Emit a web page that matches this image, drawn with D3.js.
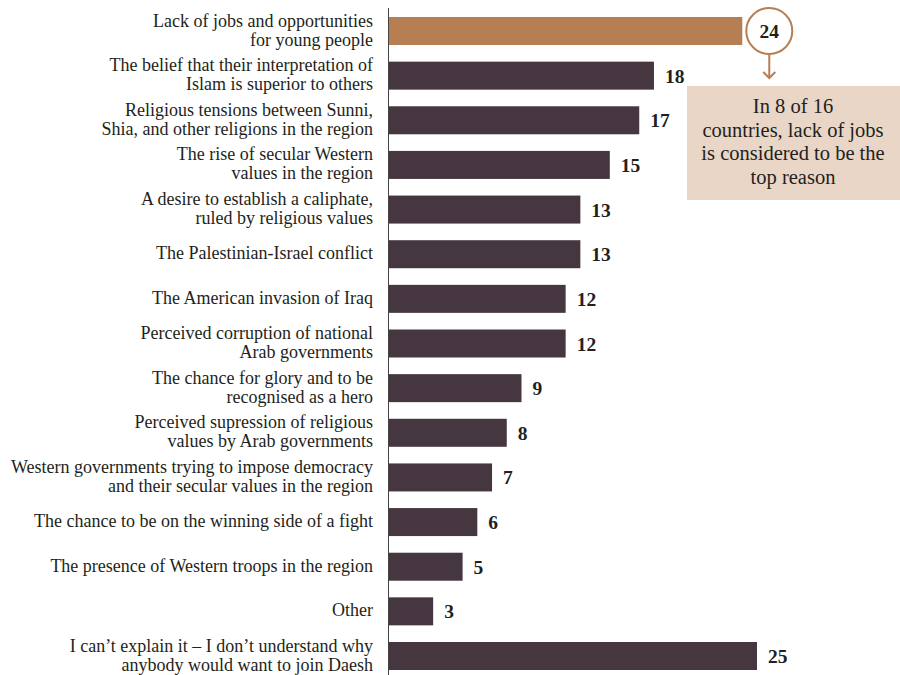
<!DOCTYPE html>
<html>
<head>
<meta charset="utf-8">
<script src="https://cdn.jsdelivr.net/npm/d3@7"></script>
<style>
  html, body { margin: 0; padding: 0; background: #fff; }
  svg { display: block; }
</style>
</head>
<body>
<svg id="chart" width="900" height="675"></svg>
<script>
// Reasons for joining Daesh (%), one entry per bar; "\n" splits a label onto two lines
const categories = [
  "Lack of jobs and opportunities\nfor young people",
  "The belief that their interpretation of\nIslam is superior to others",
  "Religious tensions between Sunni,\nShia, and other religions in the region",
  "The rise of secular Western\nvalues in the region",
  "A desire to establish a caliphate,\nruled by religious values",
  "The Palestinian-Israel conflict",
  "The American invasion of Iraq",
  "Perceived corruption of national\nArab governments",
  "The chance for glory and to be\nrecognised as a hero",
  "Perceived supression of religious\nvalues by Arab governments",
  "Western governments trying to impose democracy\nand their secular values in the region",
  "The chance to be on the winning side of a fight",
  "The presence of Western troops in the region",
  "Other",
  "I can\u2019t explain it \u2013 I don\u2019t understand why\nanybody would want to join Daesh"
];
const values = [24, 18, 17, 15, 13, 13, 12, 12, 9, 8, 7, 6, 5, 3, 25];
const highlightIndex = 0;
const calloutLines = ["In 8 of 16", "countries, lack of jobs", "is considered to be the", "top reason"];

const data = categories.map((c, i) => ({ cat: c, value: values[i], i }));

const svg = d3.select("#chart");
const serif = "'Liberation Serif', 'DejaVu Serif', serif";
const barColor = "#45363f";
const accent = "#b67e53";

const x = d3.scaleLinear().domain([0, 25]).range([389, 757]);
const y = d3.scaleBand().domain(categories).range([17, 670]).paddingInner(0.3728).paddingOuter(0);

// Bars
svg.append("g").selectAll("rect")
  .data(data)
  .join("rect")
  .attr("x", x(0))
  .attr("y", d => y(d.cat))
  .attr("width", d => x(d.value) - x(0))
  .attr("height", y.bandwidth())
  .attr("fill", d => d.i === highlightIndex ? accent : barColor);

// Vertical baseline axis
svg.append("line")
  .attr("x1", x(0) - 0.5).attr("x2", x(0) - 0.5)
  .attr("y1", 8).attr("y2", 675)
  .attr("stroke", "#444").attr("stroke-width", 1);

// Category labels, right aligned next to the axis
const labels = svg.append("g")
  .attr("font-family", serif)
  .attr("font-size", 18)
  .attr("fill", "#231f20")
  .attr("text-anchor", "end");

data.forEach(d => {
  const lines = d.cat.split("\n");
  const cy = y(d.cat) + y.bandwidth() / 2;
  const lh = 19;
  const t = labels.append("text")
    .attr("x", 373)
    .attr("y", cy + 5 - (lines.length - 1) * lh / 2);
  lines.forEach((ln, k) => {
    t.append("tspan").attr("x", 373).attr("dy", k === 0 ? 0 : lh).text(ln);
  });
});

// Value labels
svg.append("g").selectAll("text")
  .data(data.filter(d => d.i !== highlightIndex))
  .join("text")
  .attr("x", d => x(d.value) + 11)
  .attr("y", d => y(d.cat) + y.bandwidth() / 2 + 7)
  .attr("font-family", serif)
  .attr("font-size", 19.5)
  .attr("font-weight", "bold")
  .attr("fill", "#231f20")
  .text(d => d.value);

// Highlighted value inside a ringed badge with an arrow to the callout
const hd = data[highlightIndex];
const cx = x(hd.value) + 27;
const cy = y(hd.cat) + y.bandwidth() / 2;
const r = 23;
const badge = svg.append("g");
badge.append("circle")
  .attr("cx", cx).attr("cy", cy).attr("r", r)
  .attr("fill", "#fff").attr("stroke", accent).attr("stroke-width", 2);
badge.append("text")
  .attr("x", cx).attr("y", cy + 7)
  .attr("text-anchor", "middle")
  .attr("font-family", serif).attr("font-size", 19.5).attr("font-weight", "bold")
  .attr("fill", "#231f20")
  .text(hd.value);
badge.append("line")
  .attr("x1", cx).attr("x2", cx)
  .attr("y1", cy + r).attr("y2", cy + r + 24)
  .attr("stroke", accent).attr("stroke-width", 2);
badge.append("path")
  .attr("d", `M${cx - 6},${cy + r + 18} L${cx},${cy + r + 24} L${cx + 6},${cy + r + 18}`)
  .attr("fill", "none").attr("stroke", accent).attr("stroke-width", 2);

// Callout box
const box = svg.append("g");
box.append("rect")
  .attr("x", 687).attr("y", 86).attr("width", 213).attr("height", 114)
  .attr("fill", "#e9d6c6");
box.append("g").selectAll("text")
  .data(calloutLines)
  .join("text")
  .attr("x", 793)
  .attr("y", (d, i) => 113 + i * 23.5)
  .attr("text-anchor", "middle")
  .attr("font-family", serif).attr("font-size", 20.5)
  .attr("fill", "#231f20")
  .text(d => d);
</script>
</body>
</html>
